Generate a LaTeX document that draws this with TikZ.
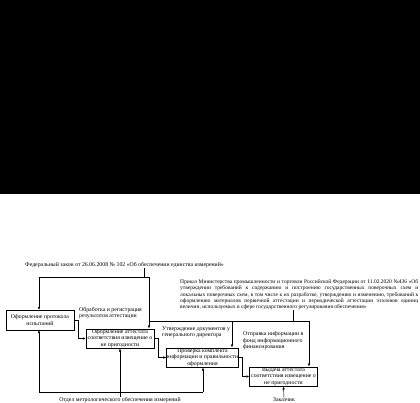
\documentclass[tikz,border=0pt]{standalone}
\usepackage{fontspec}
\setmainfont{Liberation Serif}
\usetikzlibrary{arrows.meta,positioning,calc}
\newcommand{\idefsize}{\fontsize{5.8}{6.5}\selectfont}
\tikzset{
  >={Latex[length=3pt,width=2.4pt]},
  every node/.style={font=\idefsize,text=black},
  proc/.style={draw=black,line width=0.5pt,fill=white,align=center,inner xsep=0pt,inner ysep=0.3pt,minimum width=68pt,minimum height=19.5pt},
  lbl/.style={align=left,inner sep=0pt},
  arrow/.style={->,line width=0.45pt,draw=black},
  wire/.style={line width=0.45pt,draw=black}
}

\begin{document}
\begin{tikzpicture}[x=1pt,y=-1pt]
  \fill[black] (0,0) rectangle (420,194.5);
  \useasboundingbox (0,0) rectangle (420,403);

  % activity boxes
  \node[proc] (protocol) at (40,320) {Оформление протокола\\испытаний};
  \node[proc] (attestat) at (120,338.5) {Оформление аттестата\\соответствия извещение о\\не пригодности};
  \node[proc] (check) at (202.5,357.5) {Проверка комплекта\\информации и правильности\\оформления};
  \node[proc] (issue) at (283.5,376.5) {Выдача аттестата\\соответствия извещение о\\не пригодности};

  % controls
  \node[lbl,anchor=base west] (fedlaw) at (25,266.5) {Федеральный закон от 26.06.2008 № 102 «Об обеспечении единства измерений»};
  \node[lbl,anchor=north west,text width=238pt,align=justify,font=\fontsize{5.5}{6.3}\selectfont] (order) at (180,279.5) {Приказ Министерства промышленности и торговли Российской Федерации от 11.02.2020 №436 «Об\linebreak утверждении требований к содержанию и построению государственных поверочных схем и\linebreak локальных поверочных схем, в том числе к их разработке, утверждению и изменению, требований к\linebreak оформлению материалов первичной аттестации и периодической аттестации эталонов единиц\linebreak величин, используемых в сфере государственного регулирования обеспечения»};

  % flow labels
  \node[lbl,anchor=base west] (lblA) at (79,317.5) {Обработка и регистрация\\результатов аттестации};
  \node[lbl,anchor=base west] (lblB) at (162,336.5) {Утверждение документов у\\генерального директора};
  \node[lbl,anchor=base west] (lblC) at (243,348.5) {Отправка информации в\\фонд информационного\\финансирования};

  % mechanisms
  \node[lbl] (dept) at (120,400) {Отдел метрологического обеспечения измерений};
  \node[lbl] (client) at (284,400) {Заказчик};

  \coordinate (lawtap) at (144,277);
  \coordinate (lawleft) at (39,277);
  \coordinate (ctrlA) at (149,277);
  \coordinate (ordtap) at (293,321);
  \coordinate (ordmid) at (232,321);
  \coordinate (ordright) at (309,321);
  \coordinate (mechL) at (39,392);
  \coordinate (mechR) at (203,392);

  \draw[wire] (fedlaw.south -| lawtap) -- (lawtap);
  \draw[wire] (lawleft) -- (ctrlA);
  \draw[arrow] (lawleft) -- (lawleft |- protocol.north);
  \draw[arrow] (ctrlA) -- (ctrlA |- attestat.north);

  \draw[wire] (order.south -| ordtap) -- (ordtap);
  \draw[wire] (ctrlA |- ordright) -- (ordright);
  \draw[arrow] (ordmid) -- (ordmid |- check.north);
  \draw[arrow] (ordright) -- (ordright |- issue.north);

  \draw[arrow] (protocol.east) -- ++(4,0) |- (attestat.west);
  \draw[arrow] (attestat.east) -- ++(4,0) |- (check.west);
  \draw[arrow] (check.east) -- ++(3.5,0) |- (issue.west);

  \draw[wire] (mechL) -- (mechR);
  \draw[arrow] (dept.north) -- (attestat.south);
  \draw[arrow] (mechL) -- (mechL |- protocol.south);
  \draw[arrow] (mechR) -- (mechR |- check.south);
  \draw[arrow] (client.north) -- (issue.south);
\end{tikzpicture}
\end{document}
